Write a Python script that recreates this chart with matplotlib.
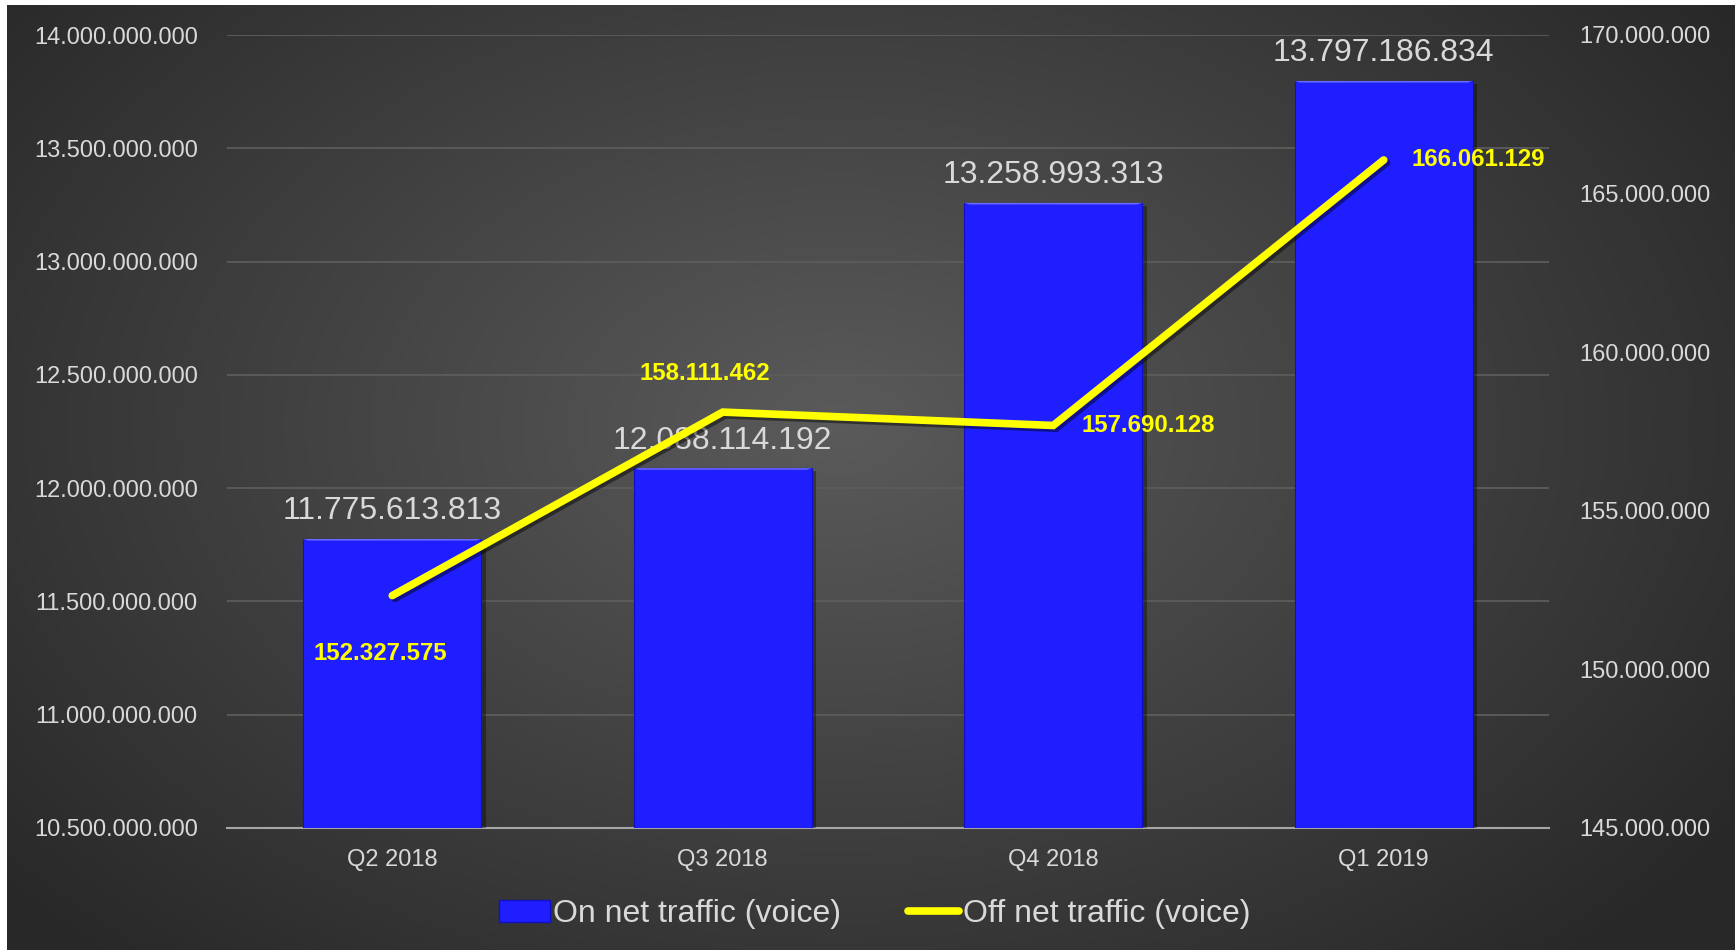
import matplotlib
matplotlib.use("Agg")
import matplotlib.pyplot as plt
import matplotlib.patheffects as pe
from matplotlib import font_manager
from matplotlib.patches import Patch, Polygon
from matplotlib.lines import Line2D
import numpy as np

quarters = ["Q2 2018", "Q3 2018", "Q4 2018", "Q1 2019"]
on_net = [11775613813, 12088114192, 13258993313, 13797186834]
off_net = [152327575, 158111462, 157690128, 166061129]

left_ticks = [10.5e9, 11e9, 11.5e9, 12e9, 12.5e9, 13e9, 13.5e9, 14e9]
right_ticks = [145e6, 150e6, 155e6, 160e6, 165e6, 170e6]

# where each yellow label sits relative to its point (pixels)
off_label_offsets = [(-12, -58), (-18, 39), (28, 0), (28, 0)]
off_label_align = ["center", "center", "left", "left"]

TEXT = "#d9d9d9"
BLUE = "#1e1eff"
YELLOW = "#ffff00"


def dotted(v):
    return f"{int(v):,}".replace(",", ".")


def has_font(name):
    try:
        font_manager.findfont(name, fallback_to_default=False)
        return True
    except Exception:
        return False


plt.rcParams["font.family"] = ["Liberation Sans", "DejaVu Sans"]
legend_family = "Liberation Sans Narrow" if has_font("Liberation Sans Narrow") else "Liberation Sans"

fig = plt.figure(figsize=(17.35, 9.5), dpi=100, facecolor="white")

# radial grey background
bg = fig.add_axes([7 / 1735, 0, 1728 / 1735, 945 / 950], zorder=-10)
yy, xx = np.mgrid[0:945, 0:1728]
r = np.sqrt(((xx - 830) / 1050) ** 2 + ((yy - 420) / 700) ** 2)
shade = np.clip(0.355 - 0.19 * r, 0.16, 0.36)
bg.imshow(np.dstack([shade] * 3), aspect="auto", interpolation="bilinear")
bg.axis("off")

ax = fig.add_axes([227 / 1735, 1 - 828 / 950, (1549 - 227) / 1735, (828 - 35) / 950])
ax.set_facecolor("none")
ax2 = ax.twinx()

x = np.arange(len(quarters))
bars = ax.bar(x, on_net, width=0.54, color=BLUE, edgecolor="#1010c0", linewidth=0.8, zorder=3,
              path_effects=[pe.SimplePatchShadow(offset=(3, -2), shadow_rgbFace="black", alpha=0.35), pe.Normal()])

# bevelled top edge on each bar
for b in bars:
    x0, w, top = b.get_x(), b.get_width(), b.get_height()
    dy = 7e6
    inset = w * 0.03
    ax.add_patch(Polygon([(x0, top), (x0 + w, top), (x0 + w - inset, top - dy), (x0 + inset, top - dy)],
                         closed=True, facecolor="#6a6aff", edgecolor="none", zorder=4))

ax.set_ylim(10.5e9, 14e9)
ax.set_xlim(-0.5, len(quarters) - 0.5)
ax.set_yticks(left_ticks)
ax.set_yticklabels([dotted(t) for t in left_ticks])
ax.set_xticks(x)
ax.set_xticklabels(quarters)
ax.grid(axis="y", color="#5c5c5c", linewidth=1.3, zorder=0)
ax.set_axisbelow(True)
ax.tick_params(axis="both", length=0, colors=TEXT, labelsize=17)
ax.tick_params(axis="y", pad=21)
ax.tick_params(axis="x", pad=15)
for s in ["top", "left", "right"]:
    ax.spines[s].set_visible(False)
ax.spines["bottom"].set_color("#a6a6a6")
ax.spines["bottom"].set_linewidth(1.5)

for xi, v in zip(x, on_net):
    ax.annotate(dotted(v), (xi, v), xytext=(0, 9), textcoords="offset points",
                ha="center", va="bottom", color=TEXT, fontsize=23, zorder=5)

ax2.plot(x, off_net, color=YELLOW, linewidth=5.5, solid_capstyle="round", solid_joinstyle="miter", zorder=6,
         path_effects=[pe.SimpleLineShadow(offset=(2, -2), shadow_color="black", alpha=0.45), pe.Normal()])
ax2.set_ylim(145e6, 170e6)
ax2.set_yticks(right_ticks)
ax2.set_yticklabels([dotted(t) for t in right_ticks])
ax2.tick_params(axis="y", length=0, colors=TEXT, labelsize=17, pad=22)
for s in ax2.spines.values():
    s.set_visible(False)

for xi, v, (dx, dy), ha in zip(x, off_net, off_label_offsets, off_label_align):
    ax2.annotate(dotted(v), (xi, v), xytext=(dx * 0.72, dy * 0.72), textcoords="offset points",
                 ha=ha, va="center", color=YELLOW, fontsize=17.3, fontweight="bold", zorder=7)

handles = [Patch(facecolor=BLUE, edgecolor="#1010c0", label="On net traffic (voice)"),
           Line2D([0], [0], color=YELLOW, linewidth=5.5, solid_capstyle="round", label="Off net traffic (voice)")]
fig.legend(handles=handles, loc="center", bbox_to_anchor=(0.504, 0.038), ncol=2, frameon=False,
           prop={"family": legend_family, "size": 23}, labelcolor=TEXT, handlelength=1.6,
           handletextpad=0.1, columnspacing=2.1)

fig.savefig("out.png", dpi=100, facecolor=fig.get_facecolor())
